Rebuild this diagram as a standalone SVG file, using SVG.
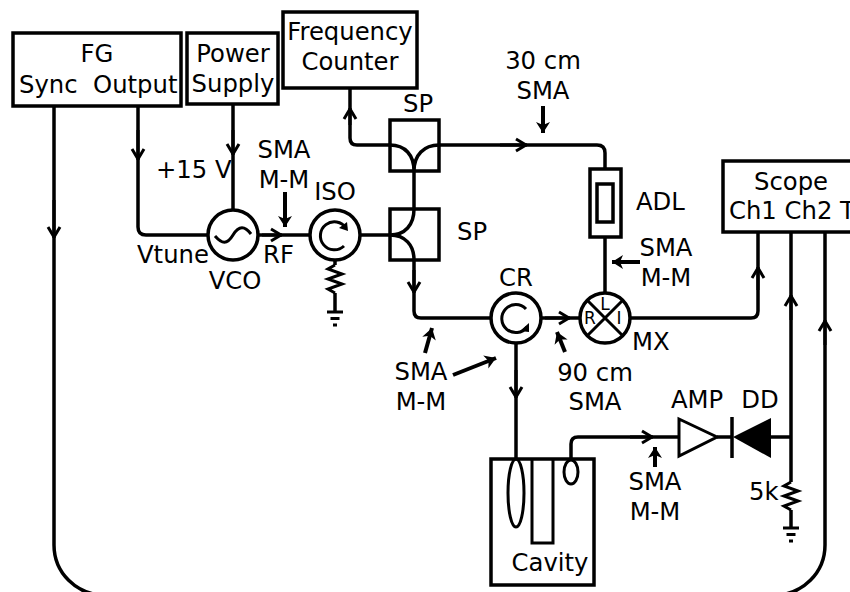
<svg xmlns="http://www.w3.org/2000/svg" width="850" height="592" viewBox="0 0 850 592">
<style>
text{font-family:"DejaVu Sans",sans-serif;font-size:24.3px;fill:#000}
.m{text-anchor:middle}
.s{font-size:17px}
.b{fill:#fff;stroke:#000;stroke-width:3.5}
.l{fill:none;stroke:#000;stroke-width:3.5}
.t{fill:none;stroke:#000;stroke-width:3}
.p{fill:none;stroke:#000;stroke-width:4}
</style>
<defs>
<marker id="h" markerUnits="userSpaceOnUse" markerWidth="18" markerHeight="18" refX="13" refY="9" orient="auto"><path d="M2,3 L12,9 L2,15" fill="none" stroke="#000" stroke-width="3"/></marker>
<marker id="k" markerUnits="userSpaceOnUse" markerWidth="18" markerHeight="18" refX="14" refY="9" orient="auto"><path d="M3,2 L14,9 L3,16 L6,9 Z" fill="#000" stroke="none"/></marker>
<g id="gnd"><path d="M-8,0H8M-4.500,6.500H4.500M-2,13H2" fill="none" stroke="#000" stroke-width="3"/></g>
<g id="res"><path d="M0,0 L-7,4 L7,9 L-7,14 L7,19 L-7,24 L0,28" fill="none" stroke="#000" stroke-width="3"/></g>
</defs>
<g id="connectors">
<path class="l" d="M54,106V545A50,50 0 0 0 104,595H775A50,50 0 0 0 825,545V232"/>
<path class="l" d="M138,106V227Q138,235 146,235H208"/>
<path class="l" d="M233,105V210"/>
<path class="l" d="M258,235H310"/>
<path class="l" d="M360,235H390"/>
<path class="l" d="M350,88V138Q350,145 357,145H390"/>
<path class="l" d="M439,145H597Q605,145 605,153V169"/>
<path class="l" d="M414,171V209"/>
<path class="l" d="M414,260V311Q414,318 421,318H490"/>
<path class="l" d="M605,237V293"/>
<path class="l" d="M540,318H580"/>
<path class="l" d="M630,318H751Q758,318 758,311V232"/>
<path class="l" d="M516,343V459"/>
<path class="l" d="M571,460V444Q571,437 578,437H679"/>
<path class="l" d="M717,437H732"/>
<path class="l" d="M771,437H791"/>
<path class="l" d="M791,232V482"/>
<path class="l" d="M791,510V528"/>
<path class="l" d="M335,260V265"/>
<path class="l" d="M335,293V312"/>
<path class="t" marker-end="url(#h)" d="M54,200V238"/>
<path class="t" marker-end="url(#h)" d="M138,130V160"/>
<path class="t" marker-end="url(#h)" d="M233,130V155"/>
<path class="t" marker-end="url(#h)" d="M262,235H282"/>
<path class="t" marker-end="url(#h)" d="M350,125V108"/>
<path class="t" marker-end="url(#h)" d="M500,145H527"/>
<path class="t" marker-end="url(#h)" d="M414,270V293"/>
<path class="t" marker-end="url(#h)" d="M545,318H570"/>
<path class="t" marker-end="url(#h)" d="M516,370V398"/>
<path class="t" marker-end="url(#h)" d="M630,437H653"/>
<path class="t" marker-end="url(#h)" d="M758,290V267"/>
<path class="t" marker-end="url(#h)" d="M791,320V295"/>
<path class="t" marker-end="url(#h)" d="M825,345V320"/>
<path class="p" marker-end="url(#k)" d="M285,192V227"/>
<path class="p" marker-end="url(#k)" d="M543,106V133"/>
<path class="p" marker-end="url(#k)" d="M425,353L432,328"/>
<path class="p" marker-end="url(#k)" d="M453,375L496,358"/>
<path class="p" marker-end="url(#k)" d="M565,352L557,332"/>
<path class="p" marker-end="url(#k)" d="M655,467V447"/>
<path class="p" marker-end="url(#k)" d="M640,262H612"/>
</g>
<g id="fg"><rect class="b" x="13" y="33" width="168" height="73"/><text class="m" x="97" y="62">FG</text><text x="19" y="93" xml:space="preserve">Sync  Output</text></g>
<g id="power"><rect class="b" x="187" y="33" width="91" height="71"/><text class="m" x="233" y="62">Power</text><text class="m" x="233" y="92">Supply</text></g>
<g id="counter"><rect class="b" x="283" y="12" width="134" height="76"/><text class="m" x="350" y="40">Frequency</text><text class="m" x="350" y="70">Counter</text></g>
<g id="sp1"><rect class="b" x="390" y="120" width="49" height="51"/><path class="l" d="M390,145C405,145 414,155 414,171M439,145C424,145 414,155 414,171"/><text x="403" y="112">SP</text></g>
<g id="sp2"><rect class="b" x="390" y="209" width="49" height="51"/><path class="l" d="M414,209C414,225 405,235 390,235C405,235 414,245 414,260"/><text x="457" y="240">SP</text></g>
<g id="adl"><rect class="b" x="590" y="169" width="31" height="68"/><rect class="b" x="597" y="184" width="16" height="38"/><text x="636" y="210">ADL</text></g>
<g id="vco"><circle class="b" cx="233" cy="235" r="25"/><path class="t" d="M215,236C222,244 227,245 233,235C239,225 245,226 251,234"/><text class="m" x="235" y="289">VCO</text></g>
<g id="iso"><circle class="b" cx="335" cy="235" r="25"/><path class="t" d="M344,246A14,14 0 1 1 346,228"/><path d="M348,231L339,228L347,222Z" fill="#000"/><use href="#res" x="335" y="265"/><use href="#gnd" x="335" y="312"/><text class="m" x="335" y="200">ISO</text></g>
<g id="cr"><circle class="b" cx="516" cy="318" r="25"/><path class="t" d="M526,309A14,14 0 1 0 527,327"/><path d="M529,323L529,332L520,331Z" fill="#000"/><text class="m" x="516" y="286">CR</text></g>
<g id="mx"><circle class="b" cx="605" cy="318" r="25"/><path class="t" d="M587,300L623,336M623,300L587,336"/><text class="s m" x="590" y="324">R</text><text class="s m" x="605" y="310">L</text><text class="s m" x="619" y="324">I</text><text x="632" y="350">MX</text></g>
<g id="amp"><path class="t" d="M679,419L717,437L679,456Z"/><text class="m" x="697" y="408">AMP</text></g>
<g id="dd"><path d="M733,437L771,418V458Z" fill="#000"/><path class="l" d="M732,417V458"/><text class="m" x="760" y="408">DD</text></g>
<g id="load"><use href="#res" x="791" y="482"/><use href="#gnd" x="791" y="528"/><text x="749" y="500">5k</text></g>
<g id="cavity"><rect class="b" x="491" y="459" width="103" height="126"/><ellipse class="t" cx="516" cy="493" rx="8" ry="34"/><path class="t" d="M532,459V543H553V459"/><ellipse class="t" cx="571" cy="472" rx="7" ry="12"/><text class="m" x="550" y="571">Cavity</text></g>
<g id="scope"><rect class="b" x="723" y="161" width="140" height="71"/><text class="m" x="791" y="190">Scope</text><text x="729" y="219">Ch1 Ch2 T</text></g>
<g id="labels">
<text class="m" x="543" y="69">30 cm</text><text class="m" x="543" y="99">SMA</text>
<text x="156" y="178">+15 V</text>
<text class="m" x="284" y="158">SMA</text><text class="m" x="284" y="188">M-M</text>
<text x="137" y="263">Vtune</text><text x="263" y="263">RF</text>
<text class="m" x="666" y="256">SMA</text><text class="m" x="666" y="286">M-M</text>
<text class="m" x="421" y="380">SMA</text><text class="m" x="421" y="410">M-M</text>
<text class="m" x="595" y="381">90 cm</text><text class="m" x="595" y="410">SMA</text>
<text class="m" x="655" y="490">SMA</text><text class="m" x="655" y="520">M-M</text>
</g>
</svg>
